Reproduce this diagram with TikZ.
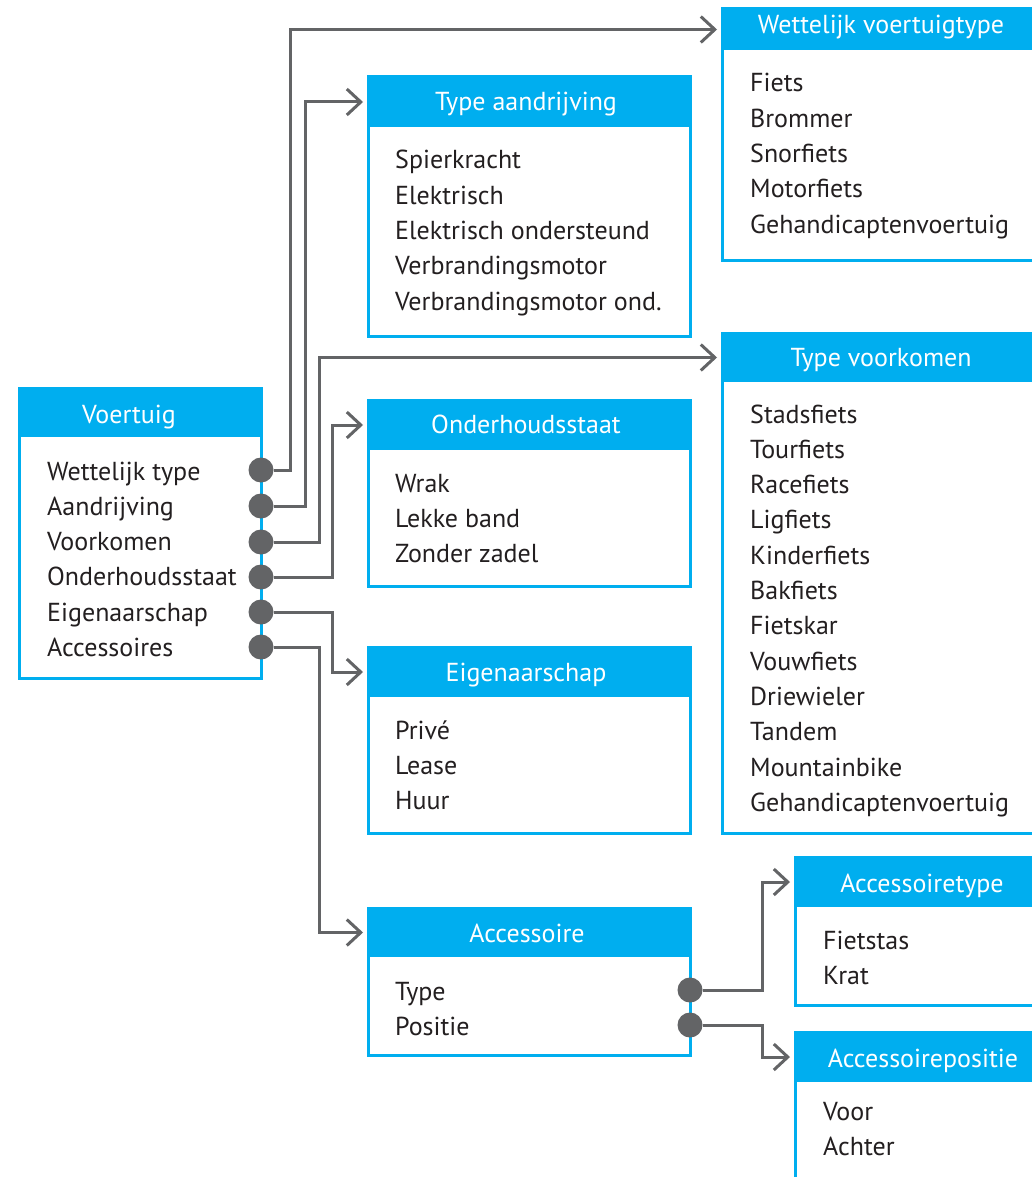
\documentclass[tikz,border=0pt]{standalone}
\usepackage{fontspec}
\setmainfont{PT Sans}
\usetikzlibrary{arrows.meta}
\definecolor{cy}{HTML}{00AEEF}
\definecolor{gr}{HTML}{636466}
\definecolor{tx}{HTML}{231F20}
\tikzset{
  x=1pt, y=-1pt,
  box/.style={draw=cy, line width=3pt, fill=white, anchor=north west, inner sep=0pt, outer sep=0pt},
  hdr/.style={fill=cy, anchor=north west, inner sep=0pt, outer sep=0pt},
  ttl/.style={anchor=base, inner sep=0pt, text=white, font=\fontsize{26}{30}\selectfont},
  itm/.style={anchor=base west, inner sep=0pt, text=tx, font=\fontsize{26}{30}\selectfont},
  dot/.style={circle, fill=gr, minimum size=25pt, inner sep=0pt, outer sep=0pt},
  conn/.style={draw=gr, line width=3pt, line join=miter, shorten >=5pt, -{Straight Barb[length=14pt,width=26pt]}},
  link/.style={draw=gr, line width=3pt},
}
\begin{document}
\begin{tikzpicture}
\useasboundingbox (0,0) rectangle (1032,1177);
\clip (0,0) rectangle (1032,1177);
\fill[white] (0,0) rectangle (1032,1177);

% Voertuig
\node[box, minimum width=242pt, minimum height=290pt] (va) at (19,388) {};
\node[hdr, minimum width=242pt, minimum height=49pt] (va-h) at (19,388) {};
\node[ttl] (va-t) at (129,423) {Voertuig};
\foreach \t [count=\i] in {Wettelijk type,Aandrijving,Voorkomen,Onderhoudsstaat,Eigenaarschap,Accessoires}
  \node[itm] (va-\i) at (47,{480+35.3*(\i-1)}) {\t};

% Type aandrijving
\node[box, minimum width=322pt, minimum height=259pt] (ta) at (368,77) {};
\node[hdr, minimum width=322pt, minimum height=50pt] (ta-h) at (368,77) {};
\node[ttl] (ta-t) at (526,111) {Type aandrijving};
\foreach \t [count=\i] in {Spierkracht,Elektrisch,Elektrisch ondersteund,Verbrandingsmotor,Verbrandingsmotor ond.}
  \node[itm] (ta-\i) at (395,{169+35.3*(\i-1)}) {\t};

% Wettelijk voertuigtype
\node[box, minimum width=322pt, minimum height=251pt] (wv) at (722,9) {};
\node[hdr, minimum width=322pt, minimum height=41pt] (wv-h) at (722,9) {};
\node[ttl] (wv-t) at (881,34) {Wettelijk voertuigtype};
\foreach \t [count=\i] in {Fiets,Brommer,Snorfiets,Motorfiets,Gehandicaptenvoertuig}
  \node[itm] (wv-\i) at (750,{92+35.3*(\i-1)}) {\t};

% Type voorkomen
\node[box, minimum width=322pt, minimum height=500pt] (tv) at (722,333) {};
\node[hdr, minimum width=322pt, minimum height=49pt] (tv-h) at (722,333) {};
\node[ttl] (tv-t) at (881,366) {Type voorkomen};
\foreach \t [count=\i] in {Stadsfiets,Tourfiets,Racefiets,Ligfiets,Kinderfiets,Bakfiets,Fietskar,Vouwfiets,Driewieler,Tandem,Mountainbike,Gehandicaptenvoertuig}
  \node[itm] (tv-\i) at (750,{423+35.3*(\i-1)}) {\t};

% Onderhoudsstaat
\node[box, minimum width=322pt, minimum height=186pt] (oh) at (368,400) {};
\node[hdr, minimum width=322pt, minimum height=50pt] (oh-h) at (368,400) {};
\node[ttl] (oh-t) at (526,433) {Onderhoudsstaat};
\foreach \t [count=\i] in {Wrak,Lekke band,Zonder zadel}
  \node[itm] (oh-\i) at (395,{492+35.3*(\i-1)}) {\t};

% Eigenaarschap
\node[box, minimum width=322pt, minimum height=186pt] (ei) at (368,647) {};
\node[hdr, minimum width=322pt, minimum height=50pt] (ei-h) at (368,647) {};
\node[ttl] (ei-t) at (526,681) {Eigenaarschap};
\foreach \t [count=\i] in {Privé,Lease,Huur}
  \node[itm] (ei-\i) at (395,{739+35.3*(\i-1)}) {\t};

% Accessoire
\node[box, minimum width=322pt, minimum height=147pt] (ac) at (368,908) {};
\node[hdr, minimum width=322pt, minimum height=49pt] (ac-h) at (368,908) {};
\node[ttl] (ac-t) at (527,942) {Accessoire};
\foreach \t [count=\i] in {Type,Positie}
  \node[itm] (ac-\i) at (395,{1000+35.3*(\i-1)}) {\t};

% Accessoiretype
\node[box, minimum width=254pt, minimum height=148pt] (at) at (795,857) {};
\node[hdr, minimum width=254pt, minimum height=50pt] (at-h) at (795,857) {};
\node[ttl] (at-t) at (922,892) {Accessoiretype};
\foreach \t [count=\i] in {Fietstas,Krat}
  \node[itm] (at-\i) at (823,{949+35.3*(\i-1)}) {\t};

% Accessoirepositie
\node[box, minimum width=254pt, minimum height=180pt] (ap) at (795,1032) {};
\node[hdr, minimum width=254pt, minimum height=50pt] (ap-h) at (795,1032) {};
\node[ttl] (ap-t) at (923,1067) {Accessoirepositie};
\foreach \t [count=\i] in {Voor,Achter}
  \node[itm] (ap-\i) at (823,{1120+35.3*(\i-1)}) {\t};

% dots
\node[dot] (d1) at (261,470) {};
\node[dot] (d2) at (261,506) {};
\node[dot] (d3) at (261,542) {};
\node[dot] (d4) at (261,577) {};
\node[dot] (d5) at (261,612) {};
\node[dot] (d6) at (261,647) {};
\node[dot] (a1) at (690,990) {};
\node[dot] (a2) at (690,1025) {};

% connectors
\draw[conn] (d1.east) -- ([xshift=29pt]d1.center) |- (wv-h.west);
\draw[conn] (d2.east) -- ([xshift=44pt]d2.center) |- (ta-h.west);
\draw[conn] (d3.east) -- ([xshift=58pt]d3.center) |- (tv-h.west);
\draw[conn] (d4.east) -- ([xshift=71pt]d4.center) |- (oh-h.west);
\draw[conn] (d5.east) -- ([xshift=71pt]d5.center) |- (ei-h.west);
\draw[conn] (d6.east) -- ([xshift=58pt]d6.center) |- (ac-h.west);
\draw[conn] (a1.east) -- ([xshift=72pt]a1.center) |- (at-h.west);
\draw[conn] (a2.east) -- ([xshift=72pt]a2.center) |- (ap-h.west);
\end{tikzpicture}
\end{document}
